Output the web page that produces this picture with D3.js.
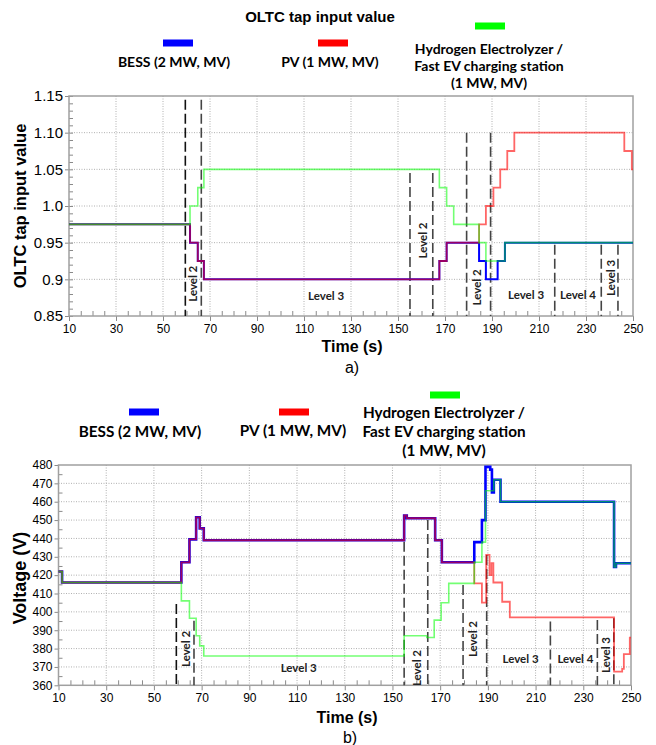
<!DOCTYPE html>
<html>
<head>
<meta charset="utf-8">
<script src="https://cdn.jsdelivr.net/npm/d3@7"></script>
<style>
  body { margin: 0; background: #fff; }
  svg { display: block; }
  text { font-family: "Liberation Sans", Arial, sans-serif; fill: #000; }
  .lbl { font-family: Lato, "Open Sans", sans-serif; font-weight: bold; }
</style>
</head>
<body>
<svg id="chart" width="656" height="745"></svg>
<script>
var timeTicks = [10, 30, 50, 70, 90, 110, 130, 150, 170, 190, 210, 230, 250];
var tapTicks = [0.85, 0.9, 0.95, 1.0, 1.05, 1.10, 1.15];
var tapTickLabels = ["0.85", "0.9", "0.95", "1.0", "1.05", "1.10", "1.15"];
var voltTicks = [360, 370, 380, 390, 400, 410, 420, 430, 440, 450, 460, 470, 480];

var seriesNames = ["BESS (2 MW, MV)", "PV (1 MW, MV)", "Hydrogen Electrolyzer /|Fast EV charging station|(1 MW, MV)"];

// a) OLTC tap value, [time s, tap] held until next point
var tapBess = [[10, 0.975], [61.5, 0.95], [64.8, 0.925], [67.4, 0.90], [167.6, 0.925], [170.7, 0.95],
  [184.5, 0.925], [187.4, 0.90], [192.4, 0.925], [195.5, 0.95], [250, 0.95]];
var tapPv = [[10, 0.975], [61.5, 0.95], [64.8, 0.925], [67.4, 0.90], [167.6, 0.925], [170.7, 0.95],
  [184.5, 0.975], [187.4, 1.0], [190.6, 1.025], [193.5, 1.05], [196.5, 1.075], [199.5, 1.10],
  [246.3, 1.075], [249.5, 1.05], [250, 1.05]];
var tapH2 = [[10, 0.975], [61.5, 1.0], [64.8, 1.025], [67.4, 1.05], [167.6, 1.025], [170.7, 1.0],
  [173.7, 0.975], [184.5, 0.95], [187.4, 0.925], [195.5, 0.95], [250, 0.95]];

// b) voltage (V)
var voltBess = [[10, 422], [11.5, 416], [61.5, 427], [64.9, 439.5], [67.7, 451.5], [69.2, 445.5], [70.9, 439],
  [154.9, 452.5], [156, 451], [167.9, 439], [170.7, 427], [184.3, 438], [187.5, 450], [189, 479],
  [191, 477.5], [191.7, 465], [192.5, 472], [195.3, 460], [242.9, 424.5], [243.7, 426.5], [250, 426.5]];
var voltPv = [[10, 422], [11.5, 416], [61.5, 427], [64.9, 439.5], [67.7, 451.5], [69.2, 445.5], [70.9, 439],
  [154.9, 452.5], [156, 451], [167.9, 439], [170.7, 427], [184.3, 415.5], [187.5, 405], [189.3, 431],
  [190.7, 420], [191.5, 426.5], [192.3, 416], [196, 405.5], [199.2, 397], [242.9, 367.5], [246.3, 369],
  [247, 377], [249.5, 386], [250, 386]];
var voltH2 = [[10, 422], [11.5, 416], [61.5, 406], [64.9, 396.5], [67.7, 387], [69.2, 381.5], [70.9, 376],
  [154.9, 387], [164.4, 386], [167.5, 395.5], [170.4, 405], [173.6, 415.5], [184.3, 427], [187.5, 438],
  [189, 466], [192.5, 472], [195.3, 460], [242.9, 424.5], [243.7, 426.5], [250, 426.5]];

// level boundaries: time, value where the dashed line starts
var tapLevelT = [59.5, 66.3, 155.1, 164.8, 179.2, 189.4, 216.7, 236.5, 243.6];
var tapLevelFrom = [1.145, 1.145, 1.045, 1.045, 1.1, 1.1, 0.947, 0.947, 0.947];
var voltLevelT = [59.4, 66.8, 154.9, 164.8, 179.6, 189.5, 216.2, 235.9, 242.8];
var voltLevelFrom = [404.3, 395.2, 438.2, 450, 414.6, 431, 394.7, 395.6, 396.5];

var levelNames = ["Level 2", "Level 3", "Level 2", "Level 2", "Level 3", "Level 4", "Level 3"];
var levelRotated = [true, false, true, true, false, false, true];
var tapLevelPos = [[62.8, 0.894], [119.4, 0.877], [160.6, 0.953], [183.6, 0.889], [204.5, 0.879], [226.6, 0.879], [240.6, 0.902]];
var voltLevelPos = [[63.4, 379.8], [110.7, 369.4], [160.1, 369.4], [183.6, 385.2], [203.7, 374.3], [226.7, 374.3], [239.7, 376.5]];

var colors = ["#0000ff", "#ff0000", "#00ff00"];

var svg = d3.select("#chart");
svg.append("rect").attr("width", 656).attr("height", 745).attr("fill", "#fff");

svg.append("text").attr("x", 320).attr("y", 22).attr("text-anchor", "middle")
  .style("font-size", "15px").style("font-weight", "bold").text("OLTC tap input value");

function legend(l) {
  var g = svg.append("g");
  seriesNames.forEach(function (name, i) {
    var it = l[i];
    g.append("rect").attr("x", it.sx - 15).attr("y", it.sy - 3.5)
      .attr("width", 30).attr("height", 7).attr("fill", colors[i]);
    name.split("|").forEach(function (line, j) {
      g.append("text").attr("class", "lbl").attr("x", it.tx).attr("y", it.ty + j * l.gap + 5)
        .attr("text-anchor", "middle").style("font-size", l.font).text(line);
    });
  });
}

function panel(p) {
  var x = d3.scaleLinear().domain([10, 250]).range([p.left, p.right]);
  var y = d3.scaleLinear().domain([p.yTicks[0], p.yTicks[p.yTicks.length - 1]]).range([p.bottom, p.top]);
  var g = svg.append("g");

  // dotted grid
  g.append("g").selectAll("line").data(timeTicks.slice(1, -1)).enter().append("line")
    .attr("x1", x).attr("x2", x).attr("y1", p.top).attr("y2", p.bottom)
    .attr("stroke", "#b0b0b0").attr("stroke-dasharray", "1,1.5");
  g.append("g").selectAll("line").data(p.yTicks.slice(1, -1)).enter().append("line")
    .attr("y1", y).attr("y2", y).attr("x1", p.left).attr("x2", p.right)
    .attr("stroke", "#b0b0b0").attr("stroke-dasharray", "1,1.5");

  // minor ticks, inside the frame
  var xMinor = d3.range(10, 251, 5).filter(function (d) { return (d - 10) % 20 !== 0; });
  g.append("g").attr("transform", "translate(0," + p.bottom + ")")
    .call(d3.axisBottom(x).tickValues(xMinor).tickSizeInner(-5).tickSizeOuter(0).tickFormat(""));
  g.append("g").attr("transform", "translate(" + p.left + ",0)")
    .call(d3.axisLeft(y).tickValues(p.yMinor).tickSizeInner(-4).tickSizeOuter(0).tickFormat(""));

  // major ticks + labels
  var xa = g.append("g").attr("transform", "translate(0," + p.bottom + ")")
    .call(d3.axisBottom(x).tickValues(timeTicks).tickSize(5).tickPadding(3));
  xa.selectAll("text").style("font-size", "12px");
  var ya = g.append("g").attr("transform", "translate(" + p.left + ",0)")
    .call(d3.axisLeft(y).tickValues(p.yTicks).tickSize(4).tickPadding(2)
      .tickFormat(function (d, i) { return p.yLabels[i]; }));
  ya.selectAll("text").style("font-size", p.yFont);
  g.selectAll(".domain").remove();
  g.selectAll(".tick line").attr("stroke", "#8a8a8a");

  g.append("rect").attr("x", p.left).attr("y", p.top)
    .attr("width", p.right - p.left).attr("height", p.bottom - p.top)
    .attr("fill", "none").attr("stroke", "#a0a0a0").attr("stroke-width", 1.5);

  // level boundaries
  g.append("g").selectAll("line").data(p.levelT).enter().append("line")
    .attr("x1", x).attr("x2", x)
    .attr("y1", function (d, i) { return y(p.levelFrom[i]); }).attr("y2", p.bottom)
    .attr("stroke", function (d, i) { return i === 0 ? "#111" : "#444"; })
    .attr("stroke-width", 1.6).attr("stroke-dasharray", "10,4");

  g.append("g").selectAll("text").data(p.levelPos).enter().append("text")
    .attr("class", "lbl").attr("text-anchor", "middle").attr("dy", "0.35em")
    .style("font-size", "11.5px").style("fill", "#222")
    .attr("transform", function (d, i) {
      return "translate(" + x(d[0]) + "," + y(d[1]) + ")" + (levelRotated[i] ? " rotate(-90)" : "");
    })
    .text(function (d, i) { return levelNames[i]; });

  // series: blue opaque, red and green blended on top
  var line = d3.line().curve(d3.curveStepAfter)
    .x(function (d) { return x(d[0]); }).y(function (d) { return y(d[1]); });
  var widths = p.widths, alphas = [1, 0.6, 0.55];
  p.series.forEach(function (s, i) {
    g.append("path").datum(s).attr("d", line).attr("fill", "none")
      .attr("stroke", colors[i]).attr("stroke-opacity", alphas[i])
      .attr("stroke-width", widths[i]);
  });

  // titles
  svg.append("text").attr("transform", "translate(" + p.yTitleX + "," + p.yTitleY + ") rotate(-90)")
    .attr("text-anchor", "middle").attr("dy", "0.35em")
    .style("font-size", p.yTitleFont).style("font-weight", "bold").text(p.yTitle);
  svg.append("text").attr("x", p.xTitleX).attr("y", p.xTitleY).attr("text-anchor", "middle")
    .style("font-size", "16px").style("font-weight", "bold").text("Time (s)");
  svg.append("text").attr("x", p.capX).attr("y", p.capY).attr("text-anchor", "middle")
    .style("font-size", "16px").text(p.caption);
}

legend({ gap: 16.8, font: "14px", 0: { sx: 178, sy: 43, tx: 174, ty: 62 }, 1: { sx: 333, sy: 43, tx: 330, ty: 62 },
  2: { sx: 490, sy: 26, tx: 489, ty: 49 } });

panel({
  left: 69, right: 633, top: 96, bottom: 316,
  yTicks: tapTicks, yLabels: tapTickLabels, yFont: "15px",
  yMinor: d3.range(0, 31).map(function (i) { return 0.85 + i * 0.01; }),
  series: [tapBess, tapPv, tapH2], widths: [2, 1.8, 1.6],
  levelT: tapLevelT, levelFrom: tapLevelFrom, levelPos: tapLevelPos,
  yTitle: "OLTC tap input value", yTitleFont: "16.5px", yTitleX: 20, yTitleY: 206,
  xTitleX: 352, xTitleY: 352, capX: 352, capY: 373, caption: "a)"
});

legend({ gap: 19, font: "15.3px", 0: { sx: 144, sy: 412, tx: 140, ty: 432 }, 1: { sx: 294, sy: 412, tx: 293, ty: 431 },
  2: { sx: 445, sy: 395, tx: 444, ty: 413 } });

panel({
  left: 58.5, right: 631, top: 465, bottom: 685.3,
  yTicks: voltTicks, yLabels: voltTicks.map(String), yFont: "12px",
  yMinor: d3.range(365, 480, 10),
  series: [voltBess, voltPv, voltH2], widths: [2.6, 1.8, 1.6],
  levelT: voltLevelT, levelFrom: voltLevelFrom, levelPos: voltLevelPos,
  yTitle: "Voltage (V)", yTitleFont: "18px", yTitleX: 20, yTitleY: 578,
  xTitleX: 347, xTitleY: 723, capX: 350, capY: 743, caption: "b)"
});
</script>
</body>
</html>
